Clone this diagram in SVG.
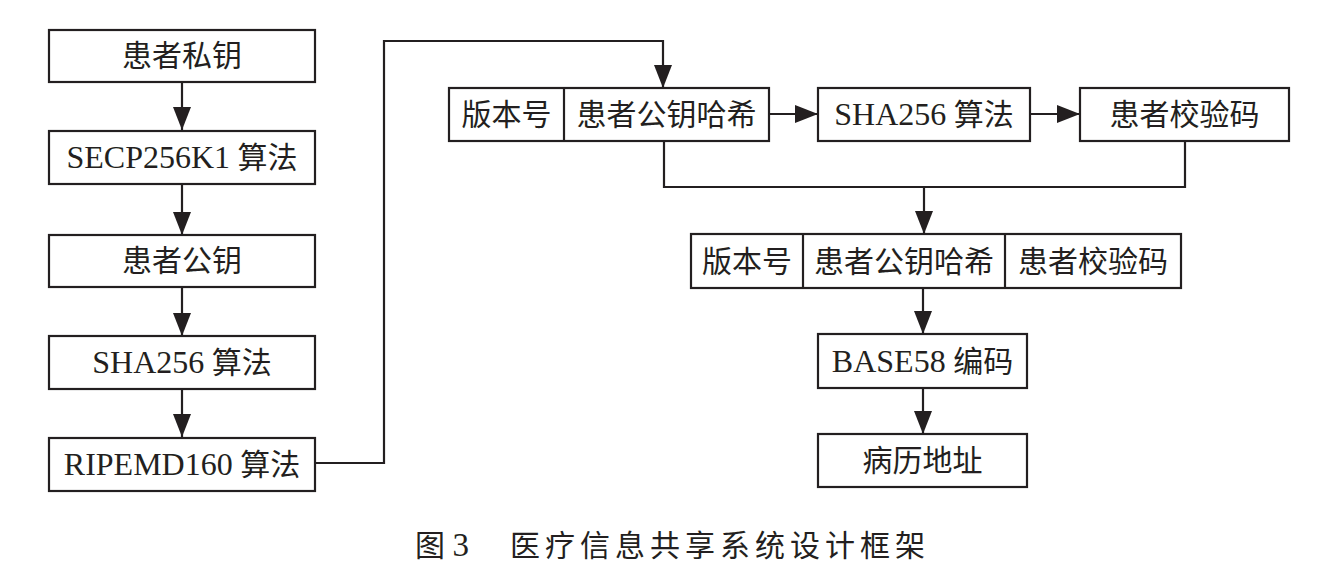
<svg xmlns="http://www.w3.org/2000/svg" width="1330" height="563" viewBox="0 0 1330 563">
<defs>
<style>
.box{fill:#fff;stroke:#231f20;stroke-width:2.2}
.t{font-family:"Liberation Serif","Noto Sans CJK SC",serif;font-size:30px;fill:#231f20;text-anchor:middle}
.l{font-size:32px}
.c{fill:none;stroke:#231f20;stroke-width:2.2}
.cap{font-family:"Liberation Serif","Noto Sans CJK SC",serif;font-size:30px;fill:#231f20}
</style>
<marker id="ah" markerUnits="userSpaceOnUse" markerWidth="24" markerHeight="20" refX="23" refY="10" orient="auto">
<path d="M0,1 L23,10 L0,19 z" fill="#231f20"/>
</marker>
</defs>
<rect width="1330" height="563" fill="#fff"/>
<g id="connectors">
<line class="c" x1="182" y1="82" x2="182" y2="130" marker-end="url(#ah)"/>
<line class="c" x1="182" y1="184" x2="182" y2="235" marker-end="url(#ah)"/>
<line class="c" x1="182" y1="287" x2="182" y2="336" marker-end="url(#ah)"/>
<line class="c" x1="182" y1="389" x2="182" y2="437" marker-end="url(#ah)"/>
<polyline class="c" points="315,463 384,463 384,41 663,41 663,88" marker-end="url(#ah)"/>
<line class="c" x1="769" y1="114" x2="818" y2="114" marker-end="url(#ah)"/>
<line class="c" x1="1030" y1="114" x2="1080" y2="114" marker-end="url(#ah)"/>
<polyline class="c" points="664,141 664,187 1185,187 1185,141"/>
<line class="c" x1="924" y1="187" x2="924" y2="234" marker-end="url(#ah)"/>
<line class="c" x1="923" y1="288" x2="923" y2="334" marker-end="url(#ah)"/>
<line class="c" x1="923" y1="388" x2="923" y2="434" marker-end="url(#ah)"/>
</g>
<g id="n1"><rect class="box" x="49" y="30" width="266" height="52"/><text class="t" x="182" y="66">患者私钥</text></g>
<g id="n2"><rect class="box" x="49" y="131" width="266" height="53"/><text class="t" x="182" y="168"><tspan class="l">SECP256K1</tspan> 算法</text></g>
<g id="n3"><rect class="box" x="49" y="235" width="266" height="52"/><text class="t" x="182" y="271">患者公钥</text></g>
<g id="n4"><rect class="box" x="49" y="336" width="266" height="53"/><text class="t" x="182" y="373"><tspan class="l">SHA256</tspan> 算法</text></g>
<g id="n5"><rect class="box" x="49" y="438" width="266" height="53"/><text class="t" x="182" y="475"><tspan class="l">RIPEMD160</tspan> 算法</text></g>
<g id="n6"><rect class="box" x="449" y="88" width="320" height="53"/><line class="c" x1="564" y1="88" x2="564" y2="141"/><text class="t" x="506.5" y="125">版本号</text><text class="t" x="666.5" y="125">患者公钥哈希</text></g>
<g id="n7"><rect class="box" x="818" y="88" width="212" height="53"/><text class="t" x="924" y="125"><tspan class="l">SHA256</tspan> 算法</text></g>
<g id="n8"><rect class="box" x="1080" y="88" width="209" height="53"/><text class="t" x="1184.5" y="125">患者校验码</text></g>
<g id="n9"><rect class="box" x="691" y="234" width="490" height="54"/><line class="c" x1="803" y1="234" x2="803" y2="288"/><line class="c" x1="1005" y1="234" x2="1005" y2="288"/><text class="t" x="747" y="272">版本号</text><text class="t" x="904" y="272">患者公钥哈希</text><text class="t" x="1093" y="272">患者校验码</text></g>
<g id="n10"><rect class="box" x="818" y="334" width="209" height="54"/><text class="t" x="922.5" y="372"><tspan class="l">BASE58</tspan> 编码</text></g>
<g id="n11"><rect class="box" x="818" y="434" width="209" height="53"/><text class="t" x="922.5" y="471">病历地址</text></g>
<text class="cap" x="415" y="556">图 <tspan font-size="33">3</tspan></text>
<text class="cap" x="510" y="556" letter-spacing="5">医疗信息共享系统设计框架</text>
</svg>
